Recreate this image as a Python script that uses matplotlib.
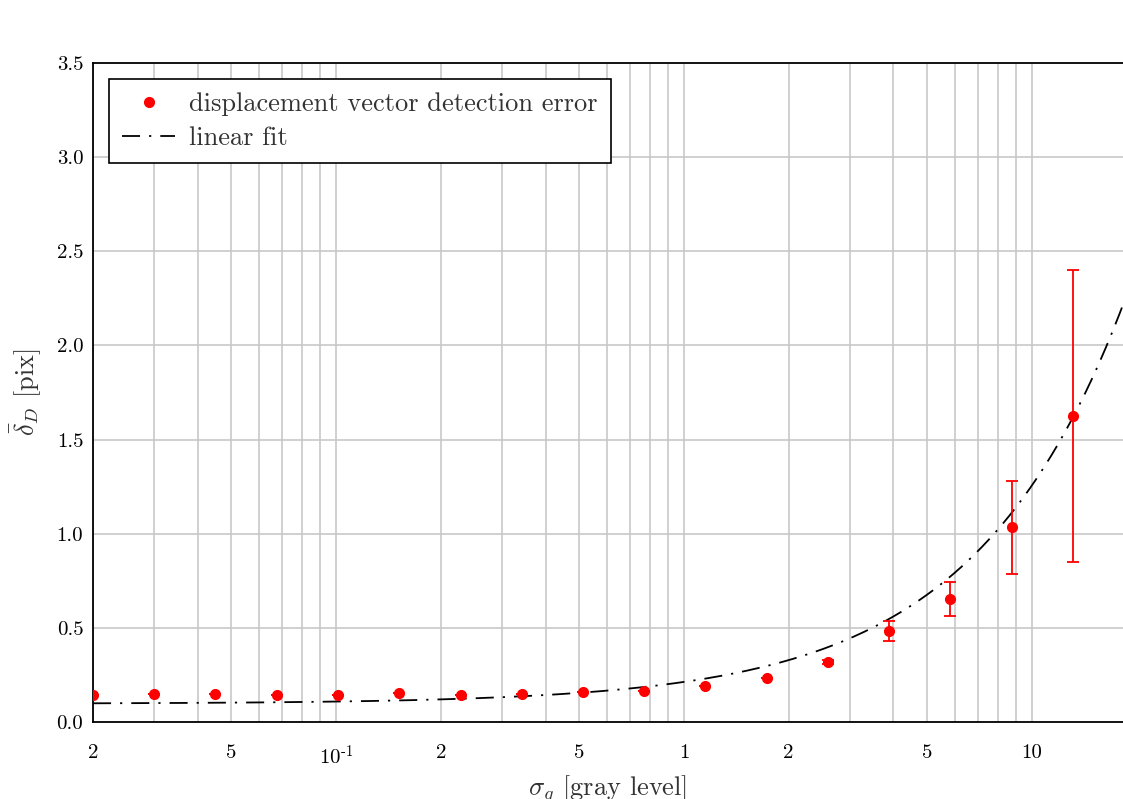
"""Displacement vector detection error vs. gray-level noise (log x)."""
import matplotlib
matplotlib.use("Agg")
import matplotlib.pyplot as plt
import numpy as np
from matplotlib.lines import Line2D
from matplotlib.ticker import FixedLocator, FixedFormatter

plt.rcParams["font.family"] = ["cmr10", "DejaVu Serif"]
plt.rcParams["mathtext.fontset"] = "cm"
plt.rcParams["axes.formatter.use_mathtext"] = True

# ---- data ----
sigma_g = [0.02, 0.03, 0.045, 0.0675, 0.101, 0.152, 0.228, 0.342, 0.513,
           0.769, 1.15, 1.73, 2.59, 3.89, 5.84, 8.76, 13.1]
delta_d = [0.143, 0.150, 0.149, 0.144, 0.143, 0.155, 0.144, 0.149, 0.160,
           0.166, 0.192, 0.235, 0.318, 0.483, 0.653, 1.034, 1.627]
err_lo = [0.0, 0.0, 0.0, 0.0, 0.0, 0.0, 0.0, 0.0, 0.0,
          0.0, 0.0, 0.0, 0.012, 0.053, 0.089, 0.248, 0.776]
err_hi = [0.0, 0.0, 0.0, 0.0, 0.0, 0.0, 0.0, 0.0, 0.0,
          0.0, 0.0, 0.0, 0.012, 0.053, 0.089, 0.248, 0.774]
fit_intercept = 0.097
fit_slope = 0.1158

x_major = [0.1, 1, 10]
x_major_labels = [r"$10^{\text{-}1}$", "1", "10"]
x_minor_labeled = [0.02, 0.05, 0.2, 0.5, 2, 5]
x_minor_labels = ["2", "5", "2", "5", "2", "5"]

XMIN, XMAX = 0.02, 18.3
GRID = "#c8c8c8"
TEXT = "#333333"

fig = plt.figure(figsize=(11.23, 7.99), dpi=100)
ax = fig.add_axes([93 / 1123, 1 - 722 / 799, 1 - 93 / 1123, (722 - 63) / 799])

# vertical grid on every decade subdivision
grid_x = [m * 10.0 ** e for e in (-2, -1, 0, 1) for m in range(1, 10)]
for gx in grid_x:
    if XMIN <= gx <= XMAX:
        ax.axvline(gx, color=GRID, linewidth=1.2, zorder=0)
for gy in np.arange(0.5, 3.5, 0.5):
    ax.axhline(gy, color=GRID, linewidth=1.2, zorder=0)

fit_style = (0, (10, 5, 1.2, 5))
xf = np.geomspace(XMIN, XMAX, 300)
ax.plot(xf, fit_intercept + fit_slope * xf, color="black", linewidth=1.3,
        linestyle=fit_style, zorder=2)

ax.errorbar(sigma_g, delta_d, yerr=[err_lo, err_hi], fmt="o", color="red",
            ecolor="red", markersize=7, elinewidth=1.3, capsize=4, capthick=1.3,
            zorder=3)

ax.set_xscale("log")
ax.set_xlim(XMIN, XMAX)
ax.set_ylim(0, 3.5)
ax.xaxis.set_major_locator(FixedLocator(x_major))
ax.xaxis.set_major_formatter(FixedFormatter(x_major_labels))
ax.xaxis.set_minor_locator(FixedLocator(x_minor_labeled))
ax.xaxis.set_minor_formatter(FixedFormatter(x_minor_labels))
yt = np.arange(0, 3.51, 0.5)
ax.set_yticks(yt)
ax.set_yticklabels([f"{v:.1f}" for v in yt])

ax.tick_params(axis="x", which="both", length=0, pad=16, labelsize=15)
ax.tick_params(axis="y", length=0, pad=7, labelsize=15)

for side in ("left", "bottom", "top"):
    ax.spines[side].set_linewidth(1.3)
    ax.spines[side].set_color("black")
ax.spines["right"].set_visible(False)

ax.set_xlabel(r"$\sigma_g$ [gray level]", fontsize=19, color=TEXT, labelpad=3)
ax.set_ylabel(r"$\bar{\delta}_D$ [pix]", fontsize=19, color=TEXT, labelpad=10)

handles = [
    Line2D([], [], marker="o", color="red", linestyle="none", markersize=7),
    Line2D([], [], color="black", linewidth=1.3, linestyle=fit_style),
]
labels = ["displacement vector detection error", "linear fit"]
leg = ax.legend(handles, labels, loc="upper left",
                bbox_to_anchor=(16 / 1030, 1 - 16 / 659), fontsize=19,
                frameon=True, fancybox=False, edgecolor="black",
                framealpha=1, borderpad=0.5, handlelength=2.0,
                labelspacing=0.4, handletextpad=0.55, borderaxespad=0,
                numpoints=1)
leg.get_frame().set_linewidth(1.2)
for t in leg.get_texts():
    t.set_color(TEXT)

fig.savefig("out.png", dpi=100)
